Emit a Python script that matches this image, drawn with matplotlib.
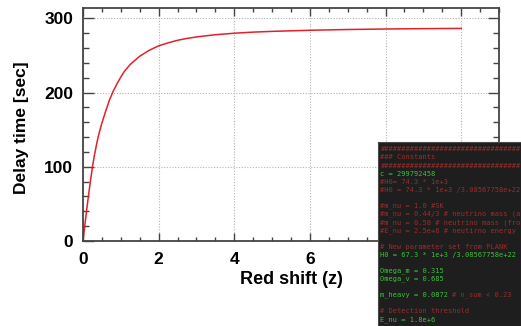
import matplotlib
matplotlib.use('Agg')
from matplotlib import pyplot as plt
from matplotlib.ticker import MultipleLocator

# Delay time curve
redshift = [0, 0.05, 0.1, 0.15, 0.2, 0.25, 0.3, 0.35, 0.4, 0.45, 0.5, 0.6,
            0.7, 0.8, 0.9, 1.0, 1.1, 1.25, 1.5, 1.75, 2, 2.25, 2.5, 2.75, 3,
            3.5, 4, 4.5, 5, 6, 7, 8, 9, 10]
delay = [0, 22, 43, 63, 82, 100, 115, 128, 140, 150, 159, 175,
         190, 202, 212, 221, 229, 238, 249, 257, 263, 267, 270.5, 273, 275,
         278, 280, 281.5, 282.5, 284, 285, 285.7, 286.2, 286.5]

# Terminal snippet pasted over the corner: (code part, comment part)
code_lines = [
    ('', '#' * 33),
    ('', '### Constants'),
    ('', '#' * 33),
    ('c = 299792458', ''),
    ('', '#H0= 74.3 * 1e+3'),
    ('', '#H0 = 74.3 * 1e+3 /3.08567758e+22'),
    ('', ''),
    ('', '#m_nu = 1.0 #SK'),
    ('', '#m_nu = 0.44/3 # neutrino mass (a'),
    ('', '#m_nu = 0.58 # neutrino mass (fro'),
    ('', '#E_nu = 2.5e+6 # neutirno energy'),
    ('', ''),
    ('', '# New parameter set from PLANK'),
    ('H0 = 67.3 * 1e+3 /3.08567758e+22', ''),
    ('', ''),
    ('Omega_m = 0.315', ''),
    ('Omega_v = 0.685', ''),
    ('', ''),
    ('m_heavy = 0.0872 ', '# n_sum < 0.23'),
    ('', ''),
    ('', '# Detection threshold'),
    ('E_nu = 1.8e+6', ''),
]

W, H = 521, 326
plt.rcParams['font.family'] = ['Liberation Sans', 'DejaVu Sans']
plt.rcParams['font.weight'] = 'bold'

fig = plt.figure(figsize=(W / 100, H / 100), dpi=100)
ax = fig.add_axes([83 / W, 1 - 241 / H, 416 / W, 233 / H])

ax.plot(redshift, delay, color='#e3202a', lw=1.1)
ax.set_xlim(0, 11)
ax.set_ylim(0, 314)
ax.xaxis.set_major_locator(MultipleLocator(2))
ax.xaxis.set_minor_locator(MultipleLocator(0.5))
ax.yaxis.set_major_locator(MultipleLocator(100))
ax.yaxis.set_minor_locator(MultipleLocator(20))
ax.set_xticks([0, 2, 4, 6, 8, 10])
ax.set_xticklabels(['0', '2', '4', '6', '', ''])

ax.grid(True, which='major', color='#b5b5b5', ls=(0, (1, 1.5)), lw=0.8)
for s in ax.spines.values():
    s.set_color('#444444')
    s.set_linewidth(1.3)
ax.tick_params(axis='both', which='both', direction='in', top=True, right=True,
               color='#444444', width=1, labelsize=12.5)
ax.tick_params(axis='x', which='major', length=6, pad=8)
ax.tick_params(axis='x', which='minor', length=3.2)
ax.tick_params(axis='y', which='major', length=8, pad=7)
ax.tick_params(axis='y', which='minor', length=4.3)

fig.text(22 / W, 1 - 128 / H, 'Delay time [sec]', rotation=90,
         ha='center', va='center', fontsize=12.5, fontweight='bold')
fig.text(291 / W, 1 - 279 / H, 'Red shift (z)', ha='center', va='center',
         fontsize=13, fontweight='bold')

# overlay window
ov = fig.add_axes([378 / W, 0, (W - 378) / W, 184 / H])
ov.set_facecolor('#1e1e1e')
ov.set_xlim(0, W - 378)
ov.set_ylim(184, 0)
ov.set_xticks([])
ov.set_yticks([])
for s in ov.spines.values():
    s.set_color('#4a4a4a')
    s.set_linewidth(0.8)

char_w = 0.602 * 5 / 72 * 100
for i, (code, comment) in enumerate(code_lines):
    y = 149.3 + i * 8.1 - 142
    if code:
        ov.text(2.5, y, code, color='#3cbf3c', family='DejaVu Sans Mono',
                fontsize=5, fontweight='normal', va='center', clip_on=True)
    if comment:
        ov.text(2.5 + len(code) * char_w, y, comment, color='#9a2c2c',
                family='DejaVu Sans Mono', fontsize=5, fontweight='normal',
                va='center', clip_on=True)

fig.savefig('out.png', dpi=100)
